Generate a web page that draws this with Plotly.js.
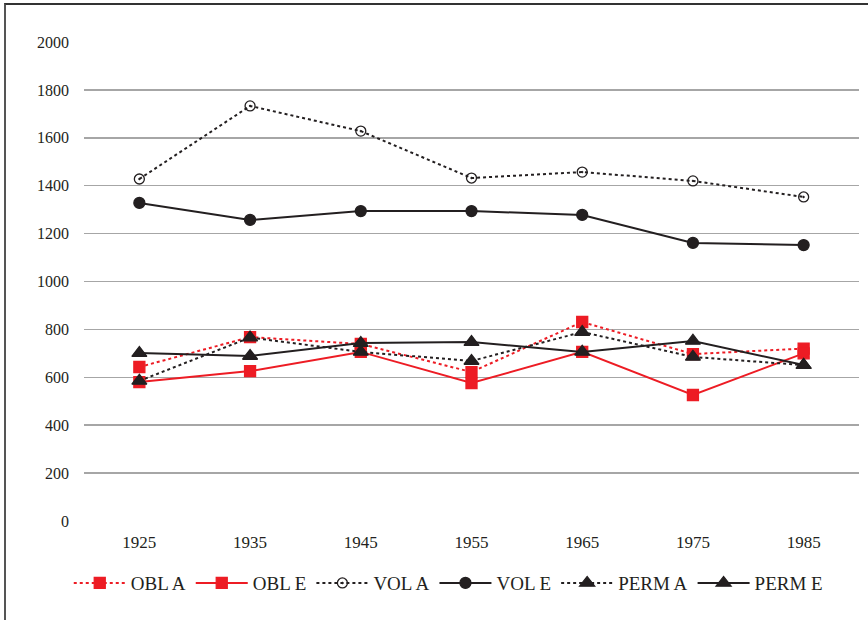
<!DOCTYPE html>
<html><head><meta charset="utf-8">
<script src="https://cdn.plot.ly/plotly-3.0.1.min.js"></script>
<style>
html,body{margin:0;padding:0;background:#fff;}
#wrap{position:relative;width:868px;height:620px;}
#chart{width:868px;height:620px;}
#frame{position:absolute;left:4px;top:3px;width:880px;height:640px;border-left:2px solid #555;border-top:2px solid #333;pointer-events:none;}
</style></head>
<body><div id="wrap"><div id="chart"></div><div id="frame"></div></div>
<script>
const years = ['1925','1935','1945','1955','1965','1975','1985'];
const oblA  = [643, 768, 739, 622, 831, 697, 720];
const oblE  = [580, 626, 706, 576, 706, 526, 700];
const volA  = [1428, 1733, 1628, 1432, 1457, 1420, 1353];
const volE  = [1328, 1257, 1294, 1294, 1278, 1161, 1152];
const permA = [585, 766, 706, 668, 789, 685, 651];
const permE = [701, 689, 743, 747, 706, 752, 651];
const yTicks = [0,200,400,600,800,1000,1200,1400,1600,1800,2000];

const RED = '#ed1c24', BLK = '#231f20';
const FONT = '"Liberation Serif", "DejaVu Serif", serif';
function tr(name, y, color, dash, symbol, size){
  return {x: years, y: y, name: name, type:'scatter', mode:'lines+markers',
    line:{color:color, width:2, dash:dash},
    marker:{color:color, symbol:symbol, size:size, line:{color:color, width:1.3}}};
}
const data = [
  tr('OBL A', oblA, RED, 'dot', 'square', 11),
  tr('OBL E', oblE, RED, 'solid', 'square', 11),
  tr('VOL A', volA, BLK, 'dot', 'circle-open-dot', 10),
  tr('VOL E', volE, BLK, 'solid', 'circle', 11),
  tr('PERM A', permA, BLK, 'dot', 'triangle-up', 13),
  tr('PERM E', permE, BLK, 'solid', 'triangle-up', 13)
];
const layout = {
  width:868, height:620,
  margin:{l:84, r:9, t:42, b:99},
  paper_bgcolor:'#fff', plot_bgcolor:'#fff',
  font:{family:FONT, color:'#231f20', size:16},
  xaxis:{type:'category', range:[-0.5, 6.5], showgrid:false, zeroline:false, showline:false, ticks:'',
    tickfont:{family:FONT, size:17, color:'#231f20'}, ticklabelstandoff:9},
  yaxis:{range:[0,2000], tickvals:yTicks, ticktext:yTicks.map(String), showgrid:true,
    gridcolor:'#a6a6a6', gridwidth:1.5, zeroline:false, showline:false, ticks:'',
    tickfont:{family:FONT, size:16, color:'#231f20'}, ticklabelstandoff:14},
  showlegend:true,
  legend:{orientation:'h', x:0.47, xanchor:'center', y:-0.09, yanchor:'top',
    font:{family:FONT, size:19, color:'#231f20'}, itemwidth:52, tracegroupgap:0},
};
Plotly.newPlot('chart', data, layout, {displayModeBar:false, staticPlot:true});
</script></body></html>
